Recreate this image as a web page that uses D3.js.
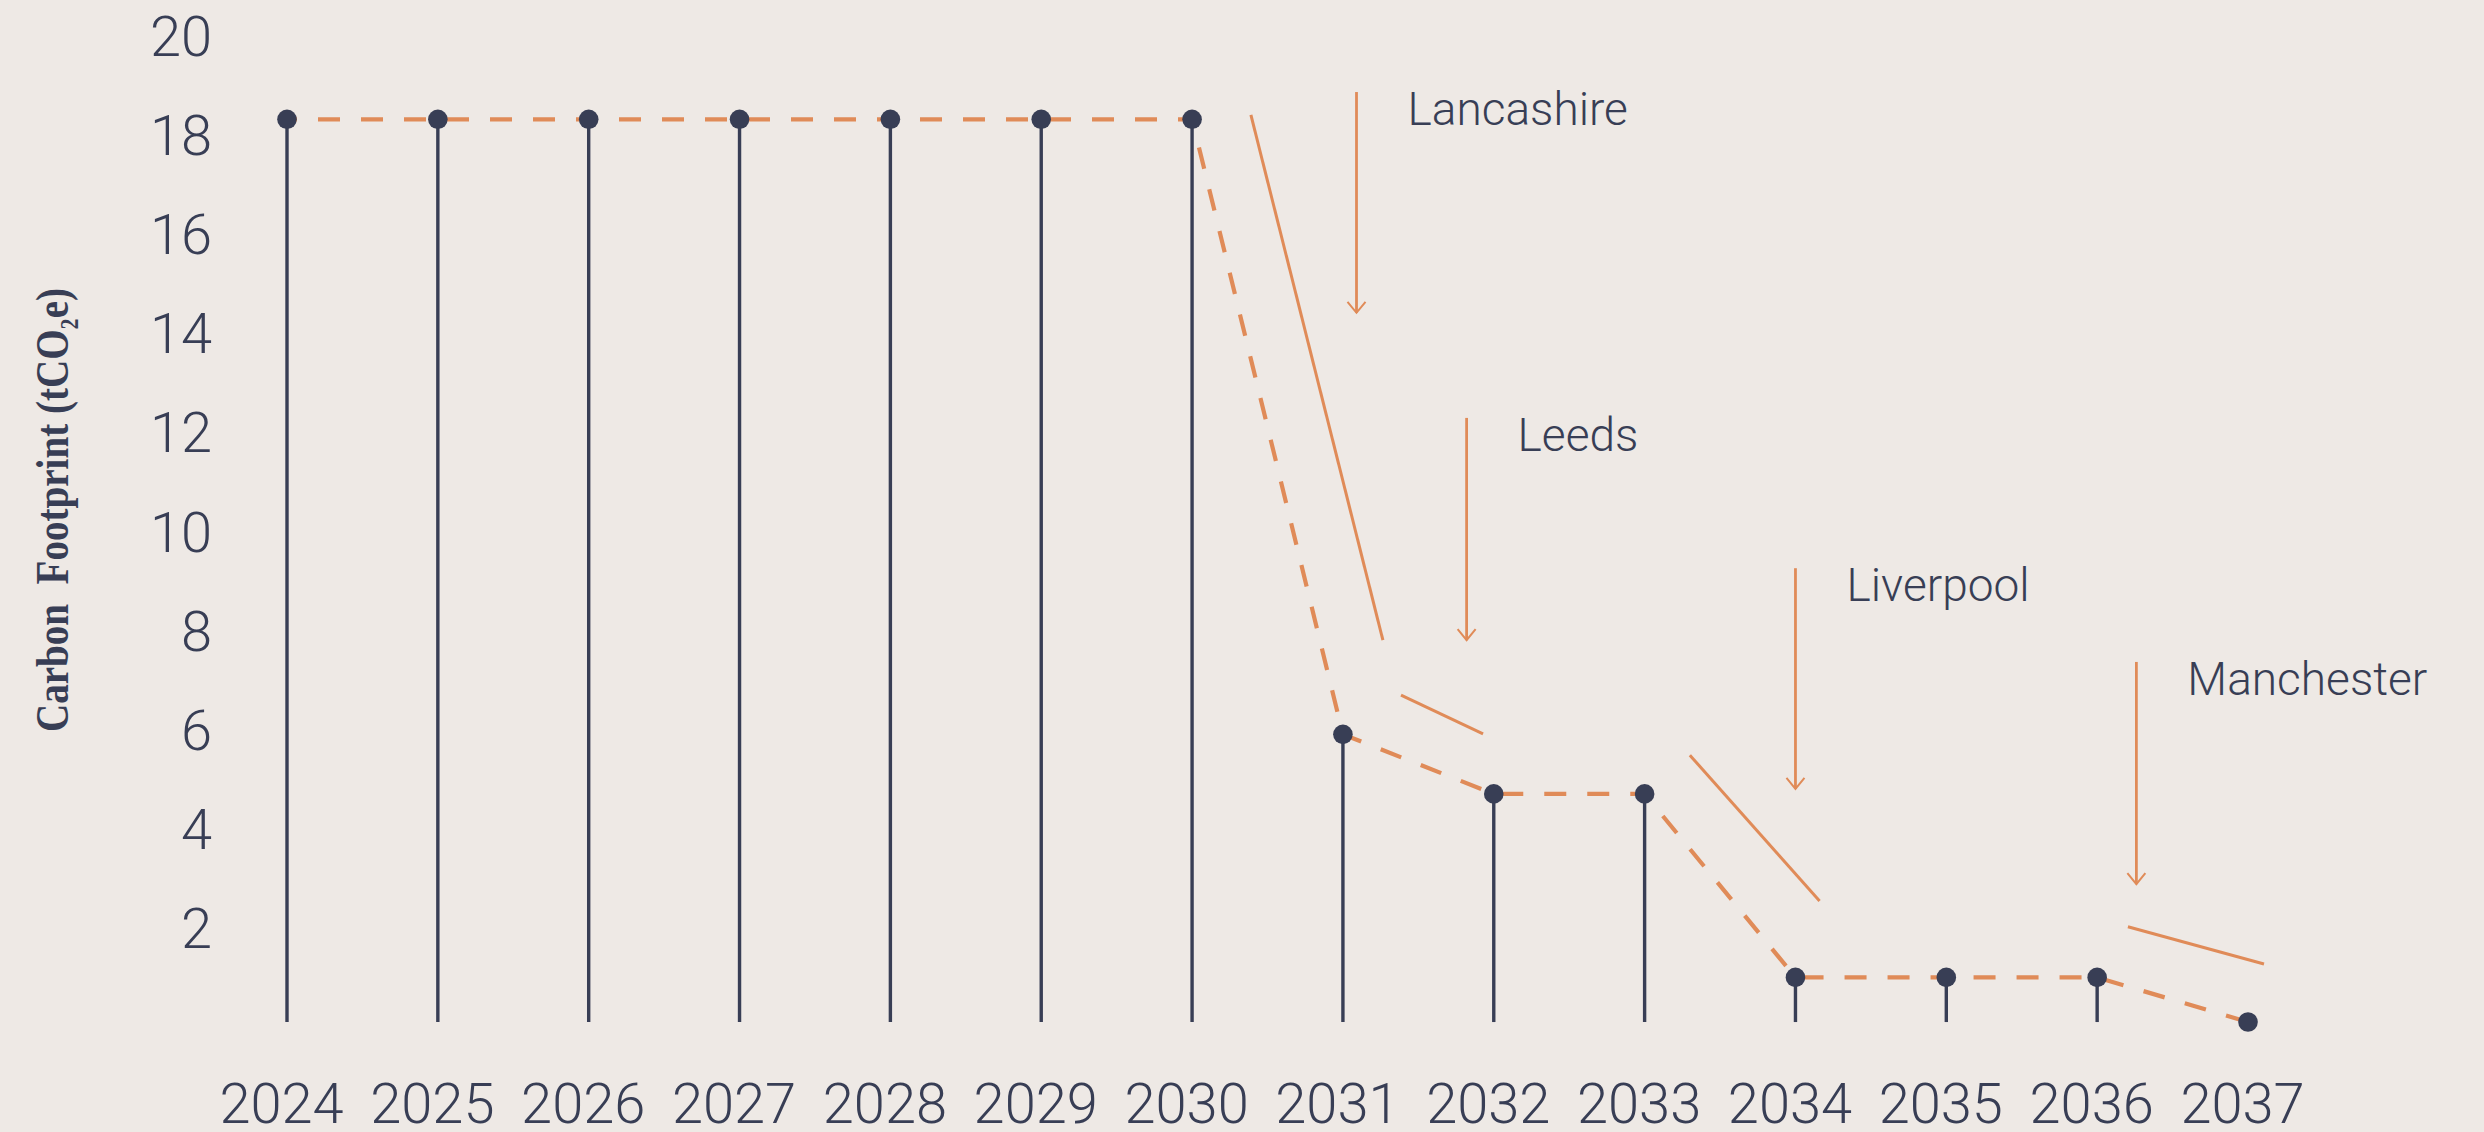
<!DOCTYPE html>
<html>
<head>
<meta charset="utf-8">
<script src="https://cdn.jsdelivr.net/npm/d3@7"></script>
<style>
  html, body { margin: 0; padding: 0; background: #EEE9E5; }
  svg { display: block; }
</style>
</head>
<body>
<svg id="chart" width="2484" height="1132"></svg>
<script>
// ---- data ----
const years = [2024, 2025, 2026, 2027, 2028, 2029, 2030, 2031, 2032, 2033, 2034, 2035, 2036, 2037];
const footprint = [18.3, 18.3, 18.3, 18.3, 18.3, 18.3, 18.3, 5.9, 4.7, 4.7, 1.0, 1.0, 1.0, 0.1];
const yTickValues = [2, 4, 6, 8, 10, 12, 14, 16, 18, 20];

// annotations (in data units: fractional year, tCO2e)
const cities = ["Lancashire", "Leeds", "Liverpool", "Manchester"];
const arrowYear = [2031.09, 2031.82, 2034.0, 2036.26];
const arrowFrom = [18.85, 12.28, 9.25, 7.36];
const arrowTo = [14.40, 7.80, 4.80, 2.88];
const trendYear1 = [2030.39, 2031.385, 2033.30, 2036.204];
const trendVal1 = [18.39, 6.69, 5.48, 2.02];
const trendYear2 = [2031.265, 2031.929, 2034.16, 2037.106];
const trendVal2 = [7.80, 5.91, 2.54, 1.27];

// ---- styles ----
const navy = "#383E55";
const orange = "#E08B58";
const font = "Roboto, 'Noto Sans', sans-serif";

const svg = d3.select("#chart");
svg.append("rect").attr("width", 2484).attr("height", 1132).attr("fill", "#EEE9E5");

const x = d3.scalePoint().domain(years).range([287, 2248]);
const xLin = d3.scaleLinear().domain([2024, 2037]).range([287, 2248]);
const y = d3.scaleLinear().domain([0, 20]).range([1027, 35]);

const data = years.map((yr, i) => ({ year: yr, value: footprint[i] }));
const baseVal = d3.min(footprint);

// y axis labels
const yAxis = d3.axisLeft(y).tickValues(yTickValues).tickSize(0).tickPadding(0).tickFormat(d3.format("d"));
const gy = svg.append("g").attr("transform", "translate(212,0)").call(yAxis);
gy.select(".domain").remove();
gy.selectAll("text")
  .attr("font-family", font).attr("font-weight", 300).attr("font-size", 56)
  .attr("fill", navy).attr("dy", 20).attr("x", 0);

// x axis labels
const xAxis = d3.axisBottom(x).tickSize(0).tickPadding(0).tickFormat(d3.format("d"));
const gx = svg.append("g").attr("transform", "translate(0,1123)").call(xAxis);
gx.select(".domain").remove();
gx.selectAll("text")
  .attr("font-family", font).attr("font-weight", 300).attr("font-size", 56)
  .attr("fill", navy).attr("dy", 0).attr("y", 0).attr("dx", -6);

// axis title
const title = svg.append("text")
  .attr("transform", "translate(68,510) rotate(-90)")
  .attr("text-anchor", "middle")
  .attr("font-family", "'Liberation Serif', 'DejaVu Serif', serif")
  .attr("font-weight", 700).attr("font-size", 46)
  .attr("fill", navy)
  .attr("textLength", 444).attr("lengthAdjust", "spacingAndGlyphs");
title.append("tspan").text("Carbon\u00A0 Footprint (tCO");
title.append("tspan").text("2").attr("font-size", 26).attr("dy", 10);
title.append("tspan").text("e)").attr("dy", -10);

// stems
svg.append("g").selectAll("line").data(data).join("line")
  .attr("x1", d => x(d.year)).attr("x2", d => x(d.year))
  .attr("y1", d => y(d.value)).attr("y2", y(baseVal))
  .attr("stroke", navy).attr("stroke-width", 3.4);

// dashed trend
const line = d3.line().x(d => x(d.year)).y(d => y(d.value));
svg.append("path").datum(data)
  .attr("d", line).attr("fill", "none")
  .attr("stroke", orange).attr("stroke-width", 4.2)
  .attr("stroke-dasharray", "22,21").attr("stroke-dashoffset", 12);

// dots
svg.append("g").selectAll("circle").data(data).join("circle")
  .attr("cx", d => x(d.year)).attr("cy", d => y(d.value)).attr("r", 9.8)
  .attr("fill", navy);

// annotations
const ann = cities.map((c, i) => ({
  city: c, ax: arrowYear[i], a1: arrowFrom[i], a2: arrowTo[i],
  tx1: trendYear1[i], tv1: trendVal1[i], tx2: trendYear2[i], tv2: trendVal2[i]
}));
const ga = svg.append("g");
ga.selectAll("line.trend").data(ann).join("line").attr("class", "trend")
  .attr("x1", d => xLin(d.tx1)).attr("y1", d => y(d.tv1))
  .attr("x2", d => xLin(d.tx2)).attr("y2", d => y(d.tv2))
  .attr("stroke", orange).attr("stroke-width", 3);
ga.selectAll("line.arrow").data(ann).join("line").attr("class", "arrow")
  .attr("x1", d => xLin(d.ax)).attr("y1", d => y(d.a1))
  .attr("x2", d => xLin(d.ax)).attr("y2", d => y(d.a2))
  .attr("stroke", orange).attr("stroke-width", 2.8);
ga.selectAll("path.head").data(ann).join("path").attr("class", "head")
  .attr("d", d => {
    const px = xLin(d.ax), py = y(d.a2);
    return `M${px - 9},${py - 11}L${px},${py}L${px + 9},${py - 11}`;
  })
  .attr("fill", "none").attr("stroke", orange).attr("stroke-width", 2);
ga.selectAll("text").data(ann).join("text")
  .attr("x", d => xLin(d.ax) + 51).attr("y", d => y(d.a1) + 33)
  .attr("font-family", font).attr("font-weight", 300).attr("font-size", 46)
  .attr("fill", navy).text(d => d.city);
</script>
</body>
</html>
